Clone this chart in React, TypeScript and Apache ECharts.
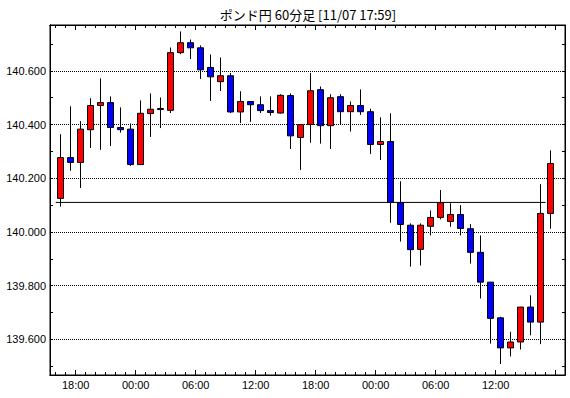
import { useEffect, useRef } from 'react';
import * as echarts from 'echarts';

const chartTitle = 'ポンド円 60分足 [11/07 17:59]';

// hourly candles, first one starts two hours before the first 18:00 tick
const firstCandleHour = -2;
const opens = [
  140.125, 140.277, 140.259, 140.381, 140.471, 140.482, 140.389, 140.383, 140.251, 140.441,
  140.460, 140.453, 140.668, 140.705, 140.686, 140.613, 140.560, 140.582, 140.447, 140.486,
  140.474, 140.452, 140.443, 140.508, 140.352, 140.400, 140.530, 140.396, 140.504, 140.448,
  140.471, 140.448, 140.326, 140.337, 140.109, 140.025, 139.935, 140.021, 140.054, 140.039,
  140.065, 140.012, 139.924, 139.813, 139.680, 139.568, 139.590, 139.720, 139.664, 140.069,
];
const closes = [
  140.277, 140.259, 140.383, 140.471, 140.482, 140.389, 140.381, 140.251, 140.442, 140.457,
  140.456, 140.668, 140.705, 140.686, 140.604, 140.578, 140.582, 140.447, 140.486, 140.474,
  140.452, 140.445, 140.509, 140.358, 140.400, 140.526, 140.396, 140.500, 140.448, 140.471,
  140.448, 140.326, 140.337, 140.110, 140.028, 139.934, 140.025, 140.054, 140.109, 140.065,
  140.013, 139.924, 139.813, 139.678, 139.568, 139.590, 139.720, 139.664, 140.069, 140.255,
];
const lows = [
  140.094, 140.228, 140.164, 140.313, 140.306, 140.320, 140.370, 140.246, 140.249, 140.354,
  140.387, 140.443, 140.662, 140.644, 140.570, 140.488, 140.525, 140.443, 140.406, 140.410,
  140.443, 140.433, 140.441, 140.309, 140.231, 140.332, 140.329, 140.309, 140.400, 140.374,
  140.436, 140.291, 140.268, 140.034, 139.964, 139.871, 139.875, 139.987, 140.047, 140.019,
  139.987, 139.882, 139.752, 139.584, 139.508, 139.536, 139.562, 139.615, 139.582, 140.012,
];
const highs = [
  140.364, 140.468, 140.413, 140.498, 140.572, 140.505, 140.464, 140.404, 140.490, 140.516,
  140.501, 140.687, 140.747, 140.717, 140.695, 140.661, 140.650, 140.592, 140.524, 140.487,
  140.505, 140.505, 140.513, 140.516, 140.401, 140.592, 140.542, 140.513, 140.513, 140.486,
  140.531, 140.459, 140.427, 140.442, 140.189, 140.032, 140.032, 140.080, 140.156, 140.107,
  140.100, 140.029, 139.987, 139.813, 139.684, 139.628, 139.720, 139.764, 140.178, 140.304,
];

// reference (previous close) line
const refLineValue = 140.11;
const refLineFrom = -2;
const refLineTo = 47;

const xTickLabels = ['18:00', '00:00', '06:00', '12:00', '18:00', '00:00', '06:00', '12:00'];
const yTickLabels = ['139.600', '139.800', '140.000', '140.200', '140.400', '140.600'];

const xMin = -2.57;
const xMax = 48.93;
const yMin = 139.467;
const yMax = 140.771;

export default function App() {
  const ref = useRef<HTMLDivElement>(null);
  useEffect(() => {
    const chart = echarts.init(ref.current!, null, { renderer: 'svg' });
    const candleData = opens.map((o, i) => [firstCandleHour + i + 0.5, o, closes[i], lows[i], highs[i]]);
    const axisLine = { show: true, onZero: false, lineStyle: { color: '#000', width: 1 } };
    const labelFont = { fontFamily: 'Liberation Sans', fontSize: 11, color: '#000' };
    const xBase = { type: 'value', min: xMin, max: xMax, axisLine, splitLine: { show: false } };
    const yBase = { type: 'value', min: yMin, max: yMax, axisLine, splitLine: { show: false } };
    const option: any = {
      animation: false,
      backgroundColor: '#fff',
      grid: { left: 50, top: 25, width: 515, height: 350, show: true, borderColor: '#000', borderWidth: 1, backgroundColor: '#fff' },
      graphic: [
        {
          type: 'text', x: 308, y: 14,
          style: { text: chartTitle, fontSize: 13, fontFamily: 'Noto Sans CJK JP', fill: '#000', align: 'center', verticalAlign: 'middle' },
        },
      ],
      xAxis: [
        {
          ...xBase, position: 'bottom', minInterval: 6, maxInterval: 6,
          axisTick: { show: true, inside: true, length: 5, lineStyle: { color: '#000' } },
          axisLabel: {
            ...labelFont, margin: 4, showMinLabel: false, showMaxLabel: false,
            formatter: (v: number) => {
              const r = Math.round(v);
              if (Math.abs(v - r) > 1e-6 || r % 6 !== 0) return '';
              return xTickLabels[r / 6] ?? '';
            },
          },
        },
        { ...xBase, position: 'bottom', minInterval: 1, maxInterval: 1, axisTick: { show: true, inside: true, length: 3, lineStyle: { color: '#000' } }, axisLabel: { show: false } },
        { ...xBase, position: 'top', minInterval: 6, maxInterval: 6, axisTick: { show: true, inside: true, length: 5, lineStyle: { color: '#000' } }, axisLabel: { show: false } },
        { ...xBase, position: 'top', minInterval: 1, maxInterval: 1, axisTick: { show: true, inside: true, length: 3, lineStyle: { color: '#000' } }, axisLabel: { show: false } },
      ],
      yAxis: [
        {
          ...yBase, position: 'left', minInterval: 0.2, maxInterval: 0.2,
          axisTick: { show: false },
          splitLine: { show: true, lineStyle: { color: '#000', width: 1, type: [1, 1] } },
          axisLabel: {
            ...labelFont, margin: 4, showMinLabel: false, showMaxLabel: false,
            formatter: (v: number) => {
              const k = (v - 139.6) / 0.2;
              const r = Math.round(k);
              if (Math.abs(k - r) > 1e-4) return '';
              return yTickLabels[r] ?? '';
            },
          },
        },
        { ...yBase, position: 'left', minInterval: 0.1, maxInterval: 0.1, axisTick: { show: true, inside: true, length: 3, lineStyle: { color: '#000' } }, axisLabel: { show: false } },
        { ...yBase, position: 'right', minInterval: 0.1, maxInterval: 0.1, axisTick: { show: true, inside: true, length: 3, lineStyle: { color: '#000' } }, axisLabel: { show: false } },
      ],
      series: [
        {
          type: 'line', xAxisIndex: 0, yAxisIndex: 0, symbol: 'none', z: 1,
          lineStyle: { color: '#000', width: 1 },
          data: [[refLineFrom, refLineValue], [refLineTo, refLineValue]],
        },
        {
          type: 'candlestick', xAxisIndex: 0, yAxisIndex: 0, barWidth: 6, z: 3,
          encode: { x: 0, y: [1, 2, 3, 4] },
          itemStyle: {
            color: '#ff0000', color0: '#0000ff',
            borderColor: '#000', borderColor0: '#000', borderColorDoji: '#000', borderWidth: 1,
          },
          data: candleData,
        },
      ],
    };
    chart.setOption(option);
    return () => chart.dispose();
  }, []);
  return <div ref={ref} style={{ position: 'fixed', left: 0, top: 0, width: 570, height: 398, background: '#fff' }} />;
}
